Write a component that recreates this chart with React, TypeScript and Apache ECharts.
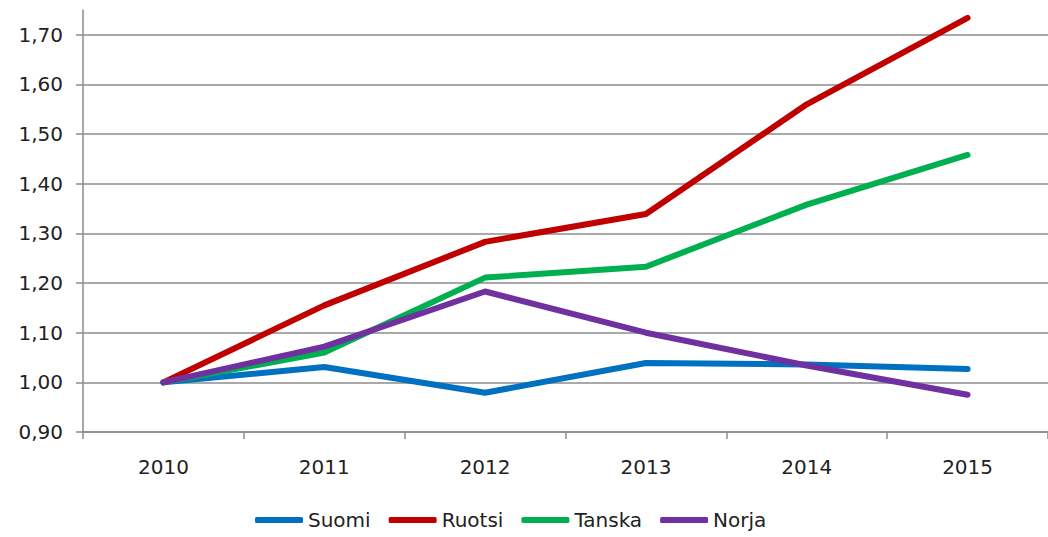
import React, { useEffect, useRef } from "react";
import * as echarts from "echarts";

const years = ["2010", "2011", "2012", "2013", "2014", "2015"];
const suomi = [1.0, 1.031, 0.979, 1.039, 1.036, 1.027];
const ruotsi = [1.0, 1.155, 1.283, 1.339, 1.56, 1.734];
const tanska = [1.0, 1.06, 1.211, 1.233, 1.358, 1.458];
const norja = [1.0, 1.072, 1.183, 1.1, 1.034, 0.975];
const yTicks = [0.9, 1.0, 1.1, 1.2, 1.3, 1.4, 1.5, 1.6, 1.7];

const seriesDefs = [
  { name: "Suomi", data: suomi, color: "#0070C0" },
  { name: "Ruotsi", data: ruotsi, color: "#C00000" },
  { name: "Tanska", data: tanska, color: "#00B050" },
  { name: "Norja", data: norja, color: "#7030A0" },
];

export default function App() {
  const ref = useRef<HTMLDivElement>(null);
  useEffect(() => {
    document.body.style.margin = "0";
    document.body.style.overflow = "hidden";
    const chart = echarts.init(ref.current!, null, { renderer: "svg" });
    const font = "DejaVu Sans";
    const gray = "#8c8c8c";
    chart.setOption({
      animation: false,
      backgroundColor: "#ffffff",
      grid: { left: 83, right: -4, top: 10, bottom: 105, containLabel: false },
      legend: {
        bottom: 2,
        left: 250,
        icon: "roundRect",
        itemWidth: 48,
        itemHeight: 6,
        itemGap: 18,
        textStyle: { fontFamily: font, fontSize: 20, color: "#222" },
        data: seriesDefs.map((s) => s.name),
      },
      xAxis: {
        type: "category",
        data: years,
        boundaryGap: true,
        axisLine: { lineStyle: { color: gray, width: 1.5 } },
        axisTick: { show: true, length: 7, lineStyle: { color: gray, width: 1.5 } },
        axisLabel: { fontFamily: font, fontSize: 20, color: "#222", margin: 25 },
      },
      yAxis: {
        type: "value",
        min: 0.9,
        max: 1.75,
        interval: 0.1,
        axisLine: { show: true, lineStyle: { color: gray, width: 1.5 } },
        axisTick: {
          show: true,
          length: 7,
          customValues: yTicks,
          lineStyle: { color: gray, width: 1.5 },
        },
        splitLine: { show: true, lineStyle: { color: gray, width: 1.5 } },
        axisLabel: {
          customValues: yTicks,
          fontFamily: font,
          fontSize: 20,
          color: "#222",
          margin: 20,
          formatter: (v: number) => v.toFixed(2).replace(".", ","),
        },
      },
      series: seriesDefs.map((s) => ({
        name: s.name,
        type: "line",
        data: s.data,
        symbol: "none",
        color: s.color,
        lineStyle: { width: 6, color: s.color, cap: "round", join: "round" },
      })),
    });
    return () => chart.dispose();
  }, []);
  return <div ref={ref} style={{ width: 1048, height: 537 }} />;
}
